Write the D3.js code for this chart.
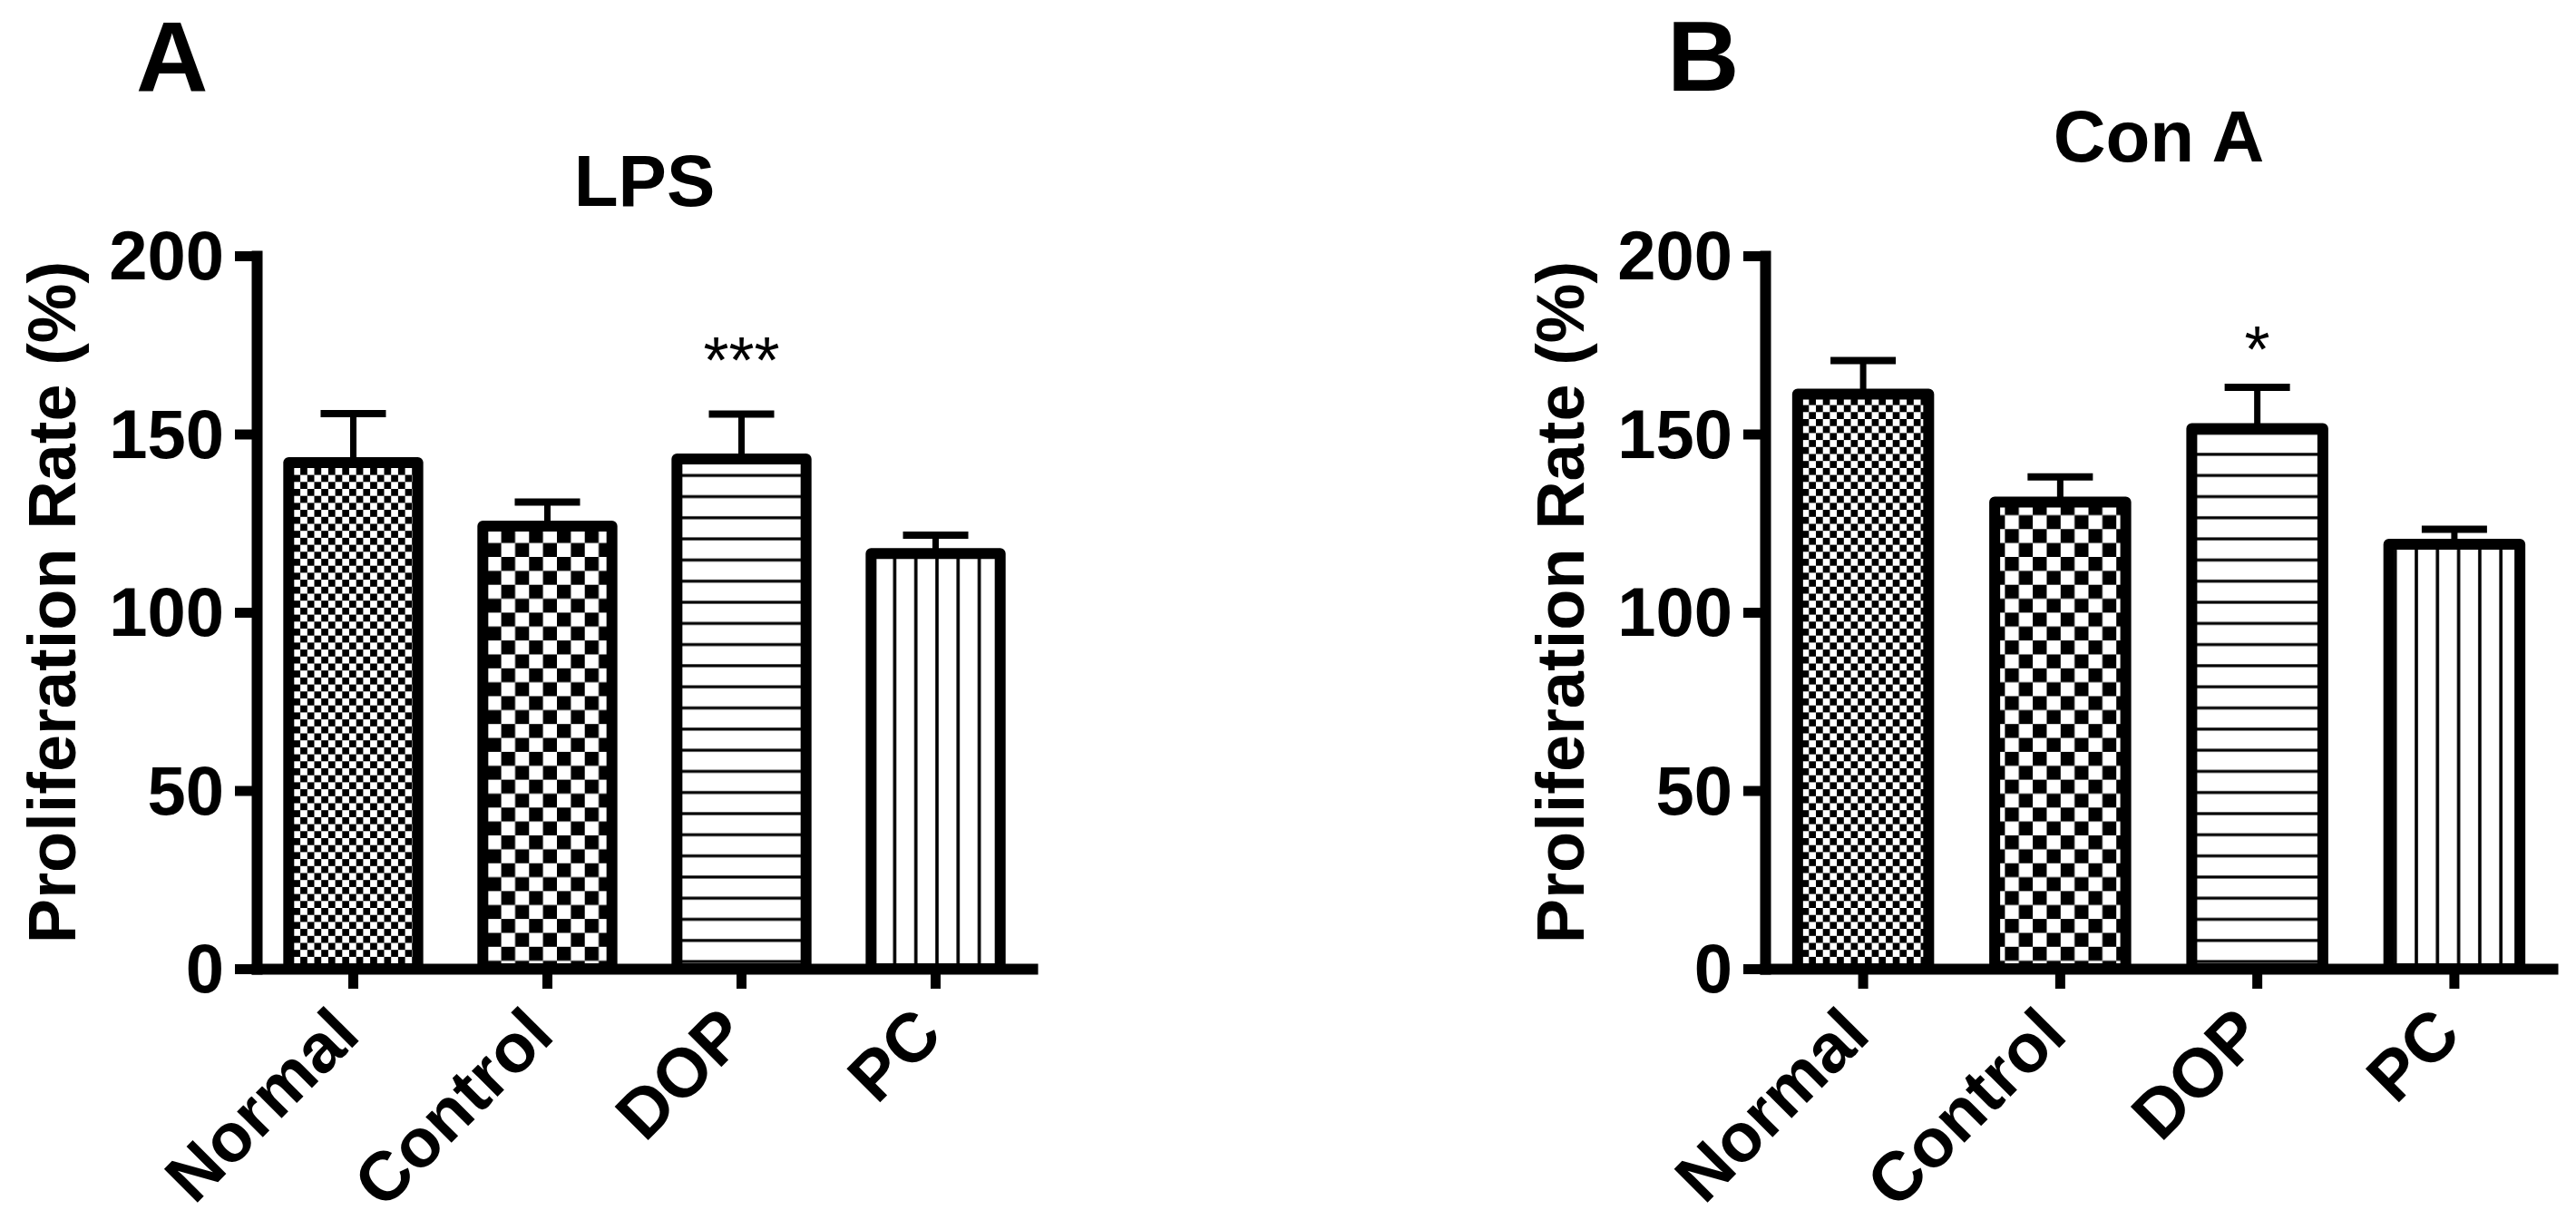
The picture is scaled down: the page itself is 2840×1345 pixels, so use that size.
<!DOCTYPE html>
<html lang="en">
<head>
    <meta charset="UTF-8">
    <script src="https://d3js.org/d3.v7.min.js"></script>
    <title>Proliferation rate</title>
    <style>
        body {
            margin: 0;
            background: #fff;
        }
        text {
            font-family: "Liberation Sans", Arial, sans-serif;
            fill: #000;
        }
    </style>
</head>

<body>
<div id="my_dataviz"></div>
<script>

    // data
    var groups = ["Normal", "Control", "DOP", "PC"];
    var patterns = ["fineChecker", "bigChecker", "hLines", "vLines"];

    var lpsMean = [142.0, 124.2, 143.0, 116.5];
    var lpsSem  = [13.7, 6.7, 12.6, 5.1];
    var lpsStars = ["", "", "***", ""];
    var lpsStarLevel = [0, 0, 175, 0];

    var conaMean = [161.2, 130.9, 151.5, 119.1];
    var conaSem  = [9.4, 7.1, 11.6, 4.2];
    var conaStars = ["", "", "*", ""];
    var conaStarLevel = [0, 0, 178, 0];

    var yTicks = [0, 50, 100, 150, 200];

    var W = 2840, H = 1345;

    var svg = d3.select("#my_dataviz")
        .append("svg")
        .attr("width", W)
        .attr("height", H);

    svg.append("rect").attr("width", W).attr("height", H).attr("fill", "#fff");

    // fill patterns
    var defs = svg.append("defs");

    var p1 = defs.append("pattern").attr("id", "fineChecker")
        .attr("patternUnits", "userSpaceOnUse").attr("width", 15.4).attr("height", 15.4);
    p1.append("rect").attr("width", 15.4).attr("height", 15.4).attr("fill", "#fff");
    p1.append("rect").attr("width", 7.7).attr("height", 7.7).attr("fill", "#000");
    p1.append("rect").attr("x", 7.7).attr("y", 7.7).attr("width", 7.7).attr("height", 7.7).attr("fill", "#000");

    var p2 = defs.append("pattern").attr("id", "bigChecker")
        .attr("patternUnits", "userSpaceOnUse").attr("width", 30.7).attr("height", 30.7);
    p2.append("rect").attr("width", 30.7).attr("height", 30.7).attr("fill", "#fff");
    p2.append("rect").attr("width", 15.35).attr("height", 15.35).attr("fill", "#000");
    p2.append("rect").attr("x", 15.35).attr("y", 15.35).attr("width", 15.35).attr("height", 15.35).attr("fill", "#000");

    var p3 = defs.append("pattern").attr("id", "hLines")
        .attr("patternUnits", "userSpaceOnUse").attr("width", 40).attr("height", 23.3);
    p3.append("rect").attr("width", 40).attr("height", 23.3).attr("fill", "#fff");
    p3.append("rect").attr("y", 10).attr("width", 40).attr("height", 3.2).attr("fill", "#000");

    var p4 = defs.append("pattern").attr("id", "vLines")
        .attr("patternUnits", "userSpaceOnUse").attr("width", 23.3).attr("height", 40);
    p4.append("rect").attr("width", 23.3).attr("height", 40).attr("fill", "#fff");
    p4.append("rect").attr("x", 6).attr("width", 3.6).attr("height", 40).attr("fill", "#000");

    // shared y scale
    var y = d3.scaleLinear()
        .domain([0, 200])
        .range([1068, 282]);

    function panel(opt) {
        var x = d3.scaleBand()
            .domain(groups)
            .range([opt.x0, opt.x1])
            .paddingInner(0.335)
            .paddingOuter(0.165);

        var g = svg.append("g");

        // panel letter
        g.append("text")
            .attr("x", opt.letterX)
            .attr("y", 100)
            .attr("font-size", 110)
            .attr("font-weight", "bold")
            .text(opt.letter);

        // title
        g.append("text")
            .attr("x", (opt.x0 + opt.x1) / 2)
            .attr("y", opt.titleY)
            .attr("text-anchor", "middle")
            .attr("font-size", 80)
            .attr("font-weight", "bold")
            .text(opt.title);

        // y axis title
        g.append("text")
            .attr("transform", "translate(" + (opt.x0 - 200) + ",664) rotate(-90)")
            .attr("text-anchor", "middle")
            .attr("font-size", 74)
            .attr("font-weight", "bold")
            .text("Proliferation Rate (%)");

        // bars
        g.selectAll(".bar")
            .data(groups)
            .enter().append("rect")
            .attr("class", "bar")
            .attr("x", function(d) { return x(d); })
            .attr("width", x.bandwidth())
            .attr("y", function(d, i) { return y(opt.mean[i]); })
            .attr("height", function(d, i) { return y(0) - y(opt.mean[i]); })
            .attr("fill", function(d, i) { return "url(#" + patterns[i] + ")"; })
            .attr("stroke", "#000")
            .attr("stroke-width", 12)
            .attr("stroke-linejoin", "round");

        // error bars (upper only)
        g.selectAll(".stem")
            .data(groups)
            .enter().append("line")
            .attr("x1", function(d) { return x(d) + x.bandwidth() / 2; })
            .attr("x2", function(d) { return x(d) + x.bandwidth() / 2; })
            .attr("y1", function(d, i) { return y(opt.mean[i]); })
            .attr("y2", function(d, i) { return y(opt.mean[i] + opt.sem[i]); })
            .attr("stroke", "#000")
            .attr("stroke-width", 7);

        g.selectAll(".cap")
            .data(groups)
            .enter().append("line")
            .attr("x1", function(d) { return x(d) + x.bandwidth() / 2 - 36; })
            .attr("x2", function(d) { return x(d) + x.bandwidth() / 2 + 36; })
            .attr("y1", function(d, i) { return y(opt.mean[i] + opt.sem[i]); })
            .attr("y2", function(d, i) { return y(opt.mean[i] + opt.sem[i]); })
            .attr("stroke", "#000")
            .attr("stroke-width", 8);

        // significance marks
        g.selectAll(".star")
            .data(groups)
            .enter().append("text")
            .attr("x", function(d) { return x(d) + x.bandwidth() / 2; })
            .attr("y", function(d, i) { return y(opt.starLevel[i]) + 42; })
            .attr("text-anchor", "middle")
            .attr("font-size", 72)
            .text(function(d, i) { return opt.stars[i]; });

        // y axis
        var ya = g.append("g")
            .attr("transform", "translate(" + opt.x0 + ",0)")
            .call(d3.axisLeft(y).tickValues(yTicks).tickSize(24).tickSizeOuter(0).tickPadding(12));
        ya.select(".domain").attr("stroke-width", 12).attr("stroke-linecap", "square");
        ya.selectAll(".tick line").attr("stroke-width", 11);
        ya.selectAll(".tick text")
            .attr("font-size", 76)
            .attr("font-weight", "bold")
            .attr("font-family", "'Liberation Sans', Arial, sans-serif")
            .attr("dy", "0.34em");

        // x axis
        var xa = g.append("g")
            .attr("transform", "translate(0," + y(0) + ")")
            .call(d3.axisBottom(x).tickSize(22).tickSizeOuter(0));
        xa.select(".domain").attr("stroke-width", 12).attr("stroke-linecap", "square");
        xa.selectAll(".tick line").attr("stroke-width", 11);
        xa.selectAll(".tick text")
            .attr("x", 0)
            .attr("y", 0)
            .attr("dy", null)
            .attr("text-anchor", "end")
            .attr("transform", "translate(10,76) rotate(-45)")
            .attr("font-size", 76)
            .attr("font-weight", "bold")
            .attr("font-family", "'Liberation Sans', Arial, sans-serif");
    }

    panel({
        letter: "A", letterX: 150, title: "LPS", titleY: 227,
        x0: 283, x1: 1138,
        mean: lpsMean, sem: lpsSem, stars: lpsStars, starLevel: lpsStarLevel
    });

    panel({
        letter: "B", letterX: 1838, title: "Con A", titleY: 178,
        x0: 1946, x1: 2814,
        mean: conaMean, sem: conaSem, stars: conaStars, starLevel: conaStarLevel
    });

</script>
</body>
</html>
